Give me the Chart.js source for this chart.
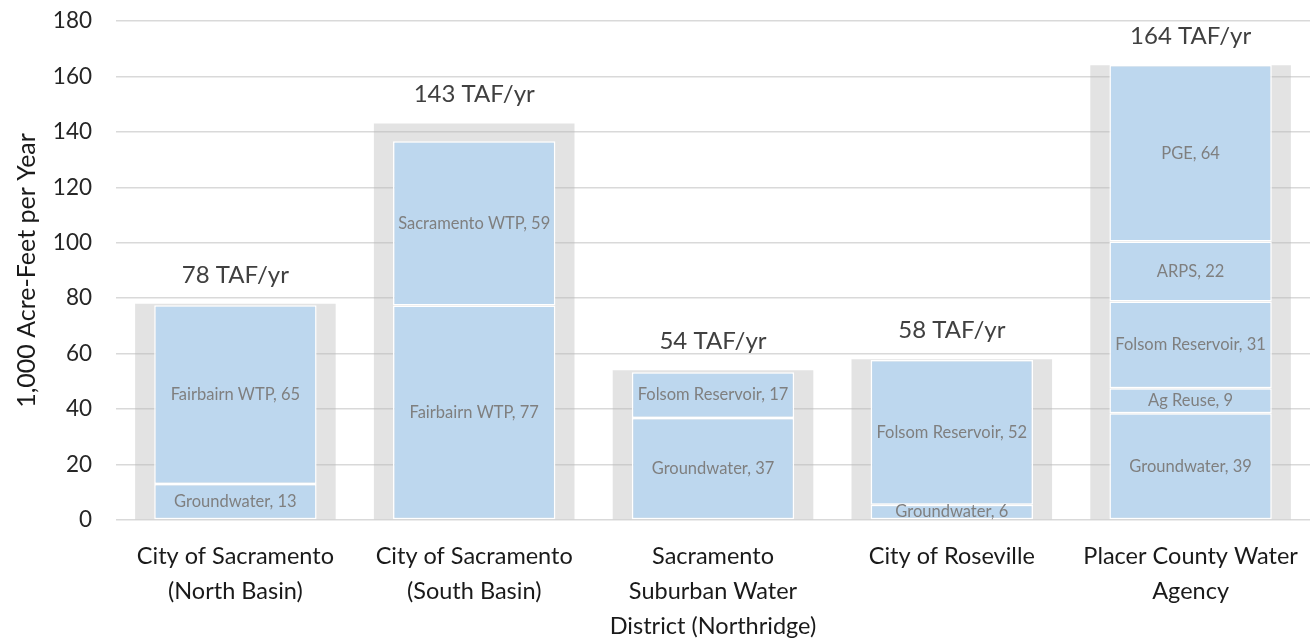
<!DOCTYPE html>
<html>
<head>
<meta charset="utf-8">
<script src="https://cdn.jsdelivr.net/npm/chart.js@4"></script>
<style>
html,body{margin:0;padding:0;background:#fff}
#wrap{width:1316px;height:642px}
</style>
</head>
<body>
<div id="wrap"><canvas id="c"></canvas></div>
<script>
let categories = [
["City of Sacramento","(North Basin)"],
["City of Sacramento","(South Basin)"],
["Sacramento","Suburban Water","District (Northridge)"],
["City of Roseville"],
["Placer County Water","Agency"]
]
let yTicks = [0,20,40,60,80,100,120,140,160,180]

// total supply, TAF/yr (grey background bar)
let totals = [78,143,54,58,164]

// stacked sources, bottom to top
let groundwater     = [13,null,36.8,5.5,38.5]
let agReuse         = [null,null,null,null,9]
let fairbairnWTP    = [64.5,77.4,null,null,null]
let sacramentoWTP   = [null,59.2,null,null,null]
let folsomReservoir = [null,null,16.5,52.2,31.3]
let arps            = [null,null,null,null,21.7]
let pge             = [null,null,null,null,63.6]

let sources = [
["Groundwater",groundwater],
["Ag Reuse",agReuse],
["Fairbairn WTP",fairbairnWTP],
["Sacramento WTP",sacramentoWTP],
["Folsom Reservoir",folsomReservoir],
["ARPS",arps],
["PGE",pge]
]

let fontFam = "Lato, 'Open Sans', sans-serif"

let datasets = sources.map(s => ({
label:s[0],
data:s[1],
xAxisID:"x",
grouped:false,
backgroundColor:"#bdd7ee",
borderColor:"#ffffff",
borderWidth:1.5,
borderSkipped:false,
barPercentage:0.68,
categoryPercentage:1
}))

datasets.push({
label:"Total",
data:totals,
xAxisID:"x2",
grouped:false,
backgroundColor:"rgba(185,185,185,0.4)",
borderWidth:0,
barPercentage:0.84,
categoryPercentage:1,
order:10
})

let labelPlugin = {
id:"segLabels",
afterDatasetsDraw(chart){
let ctx = chart.ctx
ctx.save()
ctx.textAlign = "center"
ctx.textBaseline = "middle"
chart.data.datasets.forEach((ds,di) => {
let meta = chart.getDatasetMeta(di)
meta.data.forEach((bar,i) => {
let v = ds.data[i]
if(v === null || v === undefined) return
if(ds.label === "Total"){
ctx.font = "24px " + fontFam
ctx.fillStyle = "#404040"
ctx.fillText(v + " TAF/yr", bar.x, bar.y - 29)
}else{
ctx.font = "16.5px " + fontFam
ctx.fillStyle = "#7f7f7f"
ctx.fillText(ds.label + ", " + Math.round(v), bar.x, (bar.y + bar.base)/2)
}
})
})
ctx.restore()
}
}

new Chart(document.getElementById("c"),{
type:"bar",
data:{labels:categories,datasets:datasets},
plugins:[labelPlugin],
options:{
responsive:true,
maintainAspectRatio:false,
animation:false,
layout:{padding:{top:21,right:6,left:0,bottom:0}},
plugins:{legend:{display:false},tooltip:{enabled:false}},
scales:{
x:{
stacked:true,
grid:{display:false},
border:{display:false},
ticks:{
color:"#1a1a1a",
padding:11,
font:{family:fontFam,size:23.5,lineHeight:1.49}
},
afterFit(s){ s.height = 122 }
},
x2:{
display:false,
offset:true,
grid:{display:false}
},
y:{
stacked:true,
min:0,
max:180,
afterBuildTicks(s){ s.ticks = yTicks.map(v => ({value:v})) },
grid:{color:"#d9d9d9",lineWidth:1.5,drawTicks:false},
border:{display:false},
ticks:{
color:"#262626",
padding:24,
font:{family:fontFam,size:22.5}
},
title:{
display:true,
text:"1,000 Acre-Feet per Year",
color:"#1a1a1a",
font:{family:fontFam,size:25},
padding:{top:12,bottom:0}
},
afterFit(s){
s.width = 116
s.paddingTop = 0
s.paddingBottom = 0
}
}
}
}
})
</script>
</body>
</html>
